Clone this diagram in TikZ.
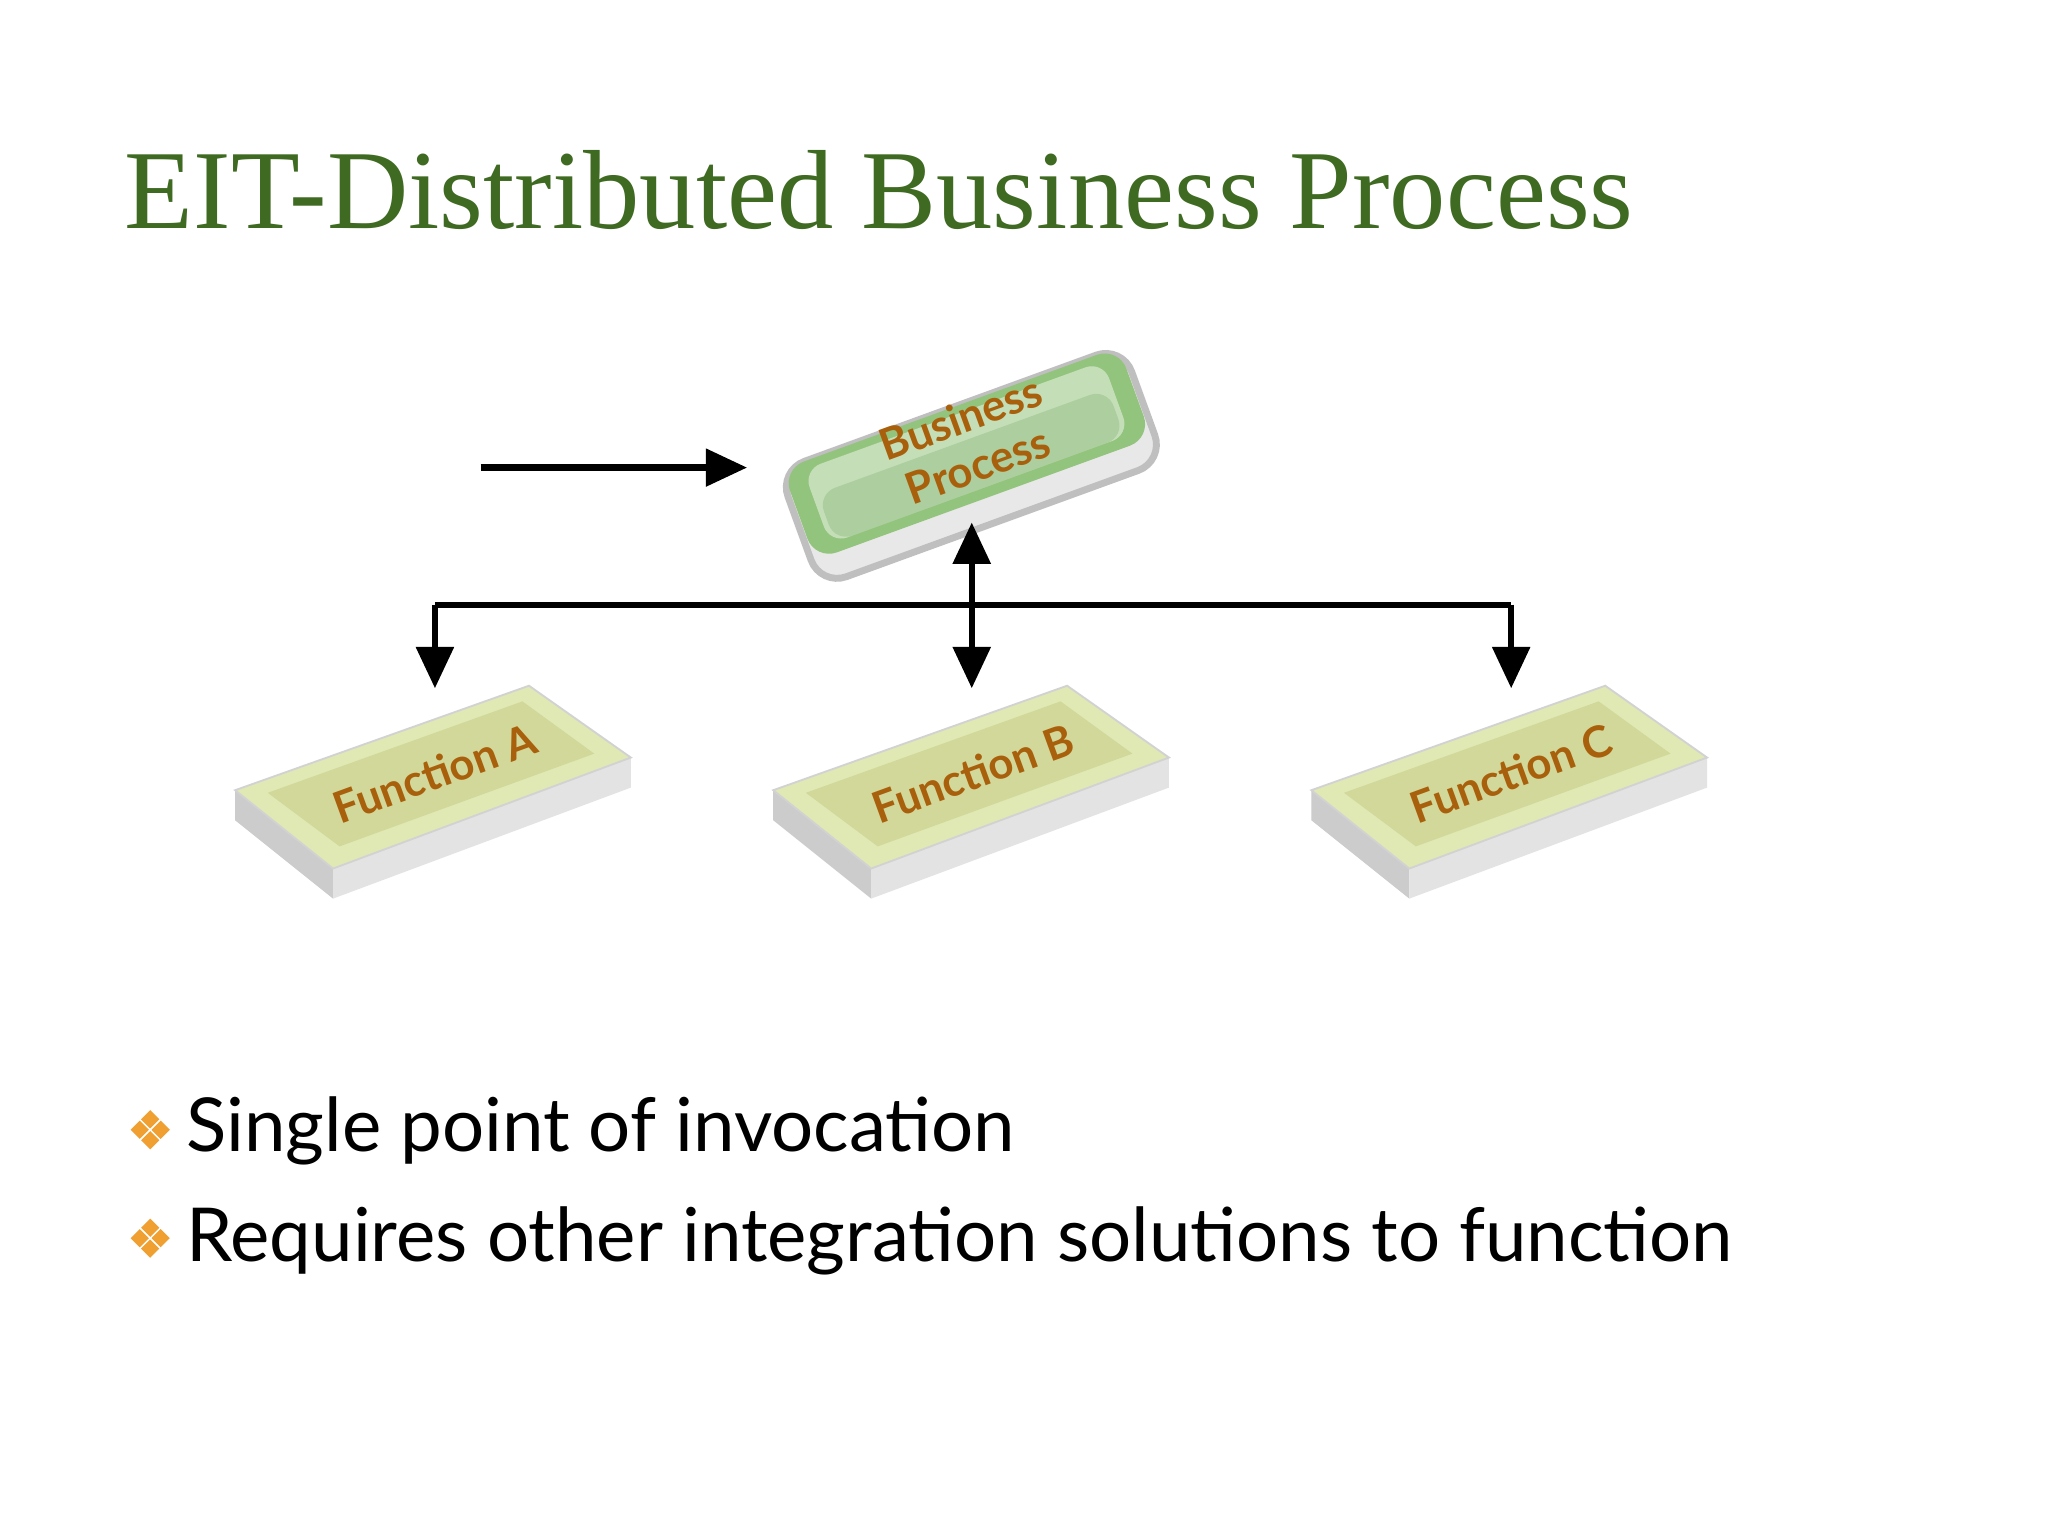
\documentclass[tikz,border=0pt]{standalone}
\usepackage{fontspec}
\setmainfont{Liberation Serif}
\setsansfont{Lato}
\usetikzlibrary{arrows.meta}
\definecolor{titlegreen}{HTML}{3F6A22}
\definecolor{labelbrown}{HTML}{A8600C}
\definecolor{bpgreen}{HTML}{93C47D}
\definecolor{fnyellow}{HTML}{E0E8B4}
\definecolor{bullet}{HTML}{F0A030}
\tikzset{
  conn/.style={line width=1.4pt,-{Triangle[length=9pt,width=8pt]}},
  lbl/.style={font=\sffamily\bfseries\fontsize{9.5}{11}\selectfont,text=labelbrown,rotate=20,align=center},
  btext/.style={font=\sffamily\fontsize{16.2}{20}\selectfont,anchor=base west,inner sep=0},
}
\newcommand{\fnbox}[1]{%
  \begin{scope}[shift={(#1,0)}]
    \fill[gray!40] (180,605) -- (255,665) -- (255,688) -- (180,628) -- cycle;
    \fill[gray!22] (255,665) -- (483,580) -- (483,603) -- (255,688) -- cycle;
    \fill[fnyellow,draw=gray!35] (180,605) -- (405,525) -- (483,580) -- (255,665) -- cycle;
    \fill[fnyellow!85!olive] (205,607) -- (400,537) -- (455,577) -- (260,648) -- cycle;
  \end{scope}}
\begin{document}
\begin{tikzpicture}[x=0.01cm,y=-0.01cm]
\useasboundingbox[fill=white] (0,0) rectangle (1568,1176);
\node[anchor=base west,text=titlegreen,font=\fontsize{24.5}{28}\selectfont,inner sep=0] (title) at (95,175) {EIT-Distributed Business Process};
% business process slab
\begin{scope}[shift={(742,352)},rotate=20]
  \draw[gray!50,line width=1.5pt,fill=gray!18,rounded corners=6pt] (-140,-42) rectangle (140,52);
  \fill[bpgreen,rounded corners=5pt] (-137,-42) rectangle (137,32);
  \fill[bpgreen!55!white,rounded corners=4pt] (-122,-36) rectangle (122,24);
  \fill[bpgreen!90!black,rounded corners=4pt,opacity=0.35] (-118,-15) rectangle (118,24);
\end{scope}
\node[lbl] (bp) at (742,338) {Business\\Process};
\fnbox{0}
\fnbox{412}
\fnbox{824}
\node[lbl] (fa) at (333,592) {Function A};
\node[lbl] (fb) at (745,592) {Function B};
\node[lbl] (fc) at (1157,592) {Function C};
% connectors
\coordinate (in) at (368,358);
\coordinate (bpl) at (572,358);
\coordinate (bpb) at (744,400);
\coordinate (jl) at (333,463);
\coordinate (jr) at (1157,463);
\coordinate (ta) at (333,527);
\coordinate (tb) at (744,527);
\coordinate (tc) at (1157,527);
\draw[conn] (in) -- (bpl);
\draw[line width=1.4pt] (jl) -- (jr);
\draw[conn] (jl) -- (ta);
\draw[conn] (jr) -- (tc);
\draw[line width=1.4pt,{Triangle[length=9pt,width=8pt]}-{Triangle[length=9pt,width=8pt]}] (bpb) -- (tb);
% bullets
\foreach \y in {865,948}{
  \foreach \dx/\dy in {0/-8,0/8,-8/0,8/0}
    \fill[bullet] (115+\dx,\y+\dy) +(0,-7) -- +(7,0) -- +(0,7) -- +(-7,0) -- cycle;
}
\node[btext] (t1) at (142,882) {Single point of invocation};
\node[btext] (t2) at (142,966) {Requires other integration solutions to function};
\end{tikzpicture}
\end{document}
